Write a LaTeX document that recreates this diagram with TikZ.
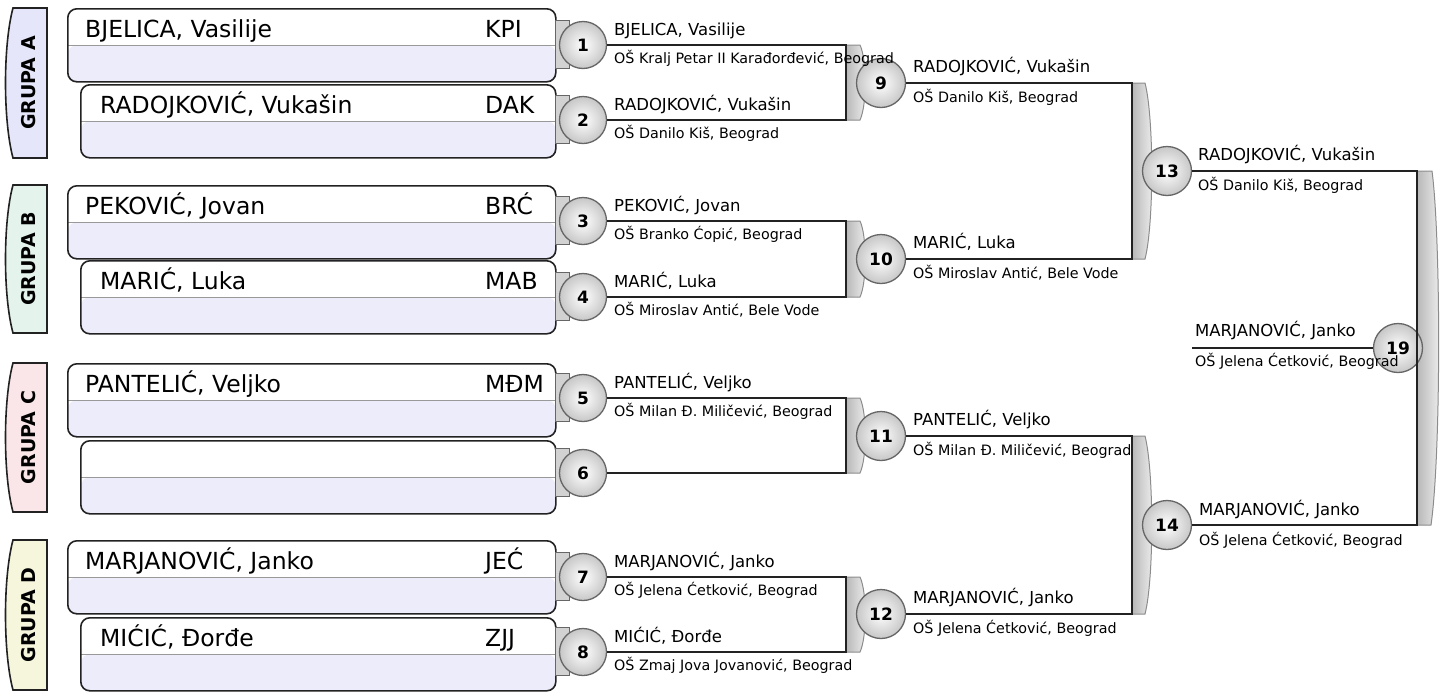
\documentclass[tikz,border=0pt]{standalone}
\usepackage{fontspec}
\setmainfont{DejaVu Sans}
\usetikzlibrary{shadings}
\definecolor{boxdark}{RGB}{34,34,34}
\definecolor{lav}{RGB}{236,236,250}
\definecolor{grpA}{RGB}{230,230,250}
\definecolor{grpB}{RGB}{228,244,236}
\definecolor{grpC}{RGB}{250,230,232}
\definecolor{grpD}{RGB}{246,246,220}
\definecolor{bandgray}{RGB}{210,210,210}
\tikzset{
  pbox/.style={draw=boxdark, line width=1.6, rounded corners=9, minimum height=73, fill=white, inner sep=0, anchor=north west,
    path picture={\fill[lav] (path picture bounding box.west) rectangle (path picture bounding box.south east);
      \draw[gray!80, line width=0.8] (path picture bounding box.west) -- (path picture bounding box.east);}},
  bigname/.style={anchor=base west, inner sep=0, font=\fontsize{23.5}{28}\selectfont},
  rname/.style={anchor=base west, inner sep=0, font=\fontsize{16.5}{20}\selectfont},
  rsub/.style={anchor=base west, inner sep=0, font=\fontsize{14.3}{17}\selectfont},
  ball/.style={circle, draw=black!60, line width=1.3, minimum size=#1, inner sep=0, shading=radial, inner color=white, outer color=black!22, font=\bfseries\fontsize{17}{20}\selectfont},
  ball/.default=49,
  stub/.style={rectangle, draw=black!60, line width=1, fill=bandgray, minimum width=14, minimum height=48, inner sep=0},
  wire/.style={draw=boxdark, line width=2},
  band/.style={left color=black!28, right color=black!6, draw=black!45, line width=1},
  grp/.style={draw=boxdark, line width=1.6},
  grptext/.style={rotate=90, font=\bfseries\fontsize{19}{22}\selectfont, inner sep=0}
}
\begin{document}
\begin{tikzpicture}[x=1pt,y=-1pt]
\useasboundingbox (0,0) rectangle (1440,691);
% group labels
\foreach \yt/\yb/\col/\lab/\nm in {8/158/grpA/A/gA,185/333/grpB/B/gB,363/512/grpC/C/gC,540/690/grpD/D/gD}{
  \pgfmathsetmacro\ya{\yt+0.25*(\yb-\yt)}
  \pgfmathsetmacro\yc{\yt+0.75*(\yb-\yt)}
  \pgfmathsetmacro\ym{(\yt+\yb)/2}
  \path[grp, fill=\col] (47,\yt) -- (13,\yt) .. controls (3,\ya) and (3,\yc) .. (13,\yb) -- (47,\yb) -- cycle;
  \node[grptext] (\nm) at (29,\ym) {GRUPA \lab};
}
% player boxes
\node[pbox, minimum width=488] (b1) at (67,8) {};
\node[pbox, minimum width=475] (b2) at (80,84) {};
\node[pbox, minimum width=488] (b3) at (67,185) {};
\node[pbox, minimum width=475] (b4) at (80,260) {};
\node[pbox, minimum width=488] (b5) at (67,363) {};
\node[pbox, minimum width=475] (b6) at (80,440) {};
\node[pbox, minimum width=488] (b7) at (67,540) {};
\node[pbox, minimum width=475] (b8) at (80,617) {};
\node[bigname] (n1) at (85,37) {BJELICA, Vasilije};
\node[bigname] (c1) at (485,37) {KPI};
\node[bigname] (n2) at (100,113) {RADOJKOVIĆ, Vukašin};
\node[bigname] (c2) at (485,113) {DAK};
\node[bigname] (n3) at (85,214) {PEKOVIĆ, Jovan};
\node[bigname] (c3) at (485,214) {BRĆ};
\node[bigname] (n4) at (100,289) {MARIĆ, Luka};
\node[bigname] (c4) at (485,289) {MAB};
\node[bigname] (n5) at (85,392) {PANTELIĆ, Veljko};
\node[bigname] (c5) at (485,392) {MĐM};
\node[bigname] (n7) at (85,569) {MARJANOVIĆ, Janko};
\node[bigname] (c7) at (485,569) {JEĆ};
\node[bigname] (n8) at (100,646) {MIĆIĆ, Đorđe};
\node[bigname] (c8) at (485,646) {ZJJ};
% stubs
\foreach \i/\y in {1/45,2/120,3/221,4/297,5/398,6/473,7/577,8/652}{
  \node[stub] (s\i) at (562,\y-1) {};
}
% bracket junction coordinates
\coordinate (j1) at (846,45);  \coordinate (j2) at (846,120);
\coordinate (j3) at (846,221); \coordinate (j4) at (846,297);
\coordinate (j5) at (846,398); \coordinate (j6) at (846,473);
\coordinate (j7) at (846,577); \coordinate (j8) at (846,652);
\coordinate (j9) at (1132,83);  \coordinate (j10) at (1132,259);
\coordinate (j11) at (1132,436); \coordinate (j12) at (1132,614);
\coordinate (j13) at (1417,171); \coordinate (j14) at (1417,525);
\coordinate (e19) at (1192,348);
% bands
\foreach \a/\b in {45/120,221/297,398/473,577/652}{
  \path[band] (846,\a) -- (860,\a) .. controls (867,\a+15) and (867,\b-15) .. (860,\b) -- (846,\b) -- cycle;
}
\foreach \a/\b in {83/259,436/614}{
  \path[band] (1132,\a) -- (1145,\a) .. controls (1154,\a+35) and (1154,\b-35) .. (1145,\b) -- (1132,\b) -- cycle;
}
\path[band] (1417,171) -- (1432,171) .. controls (1441,240) and (1441,455) .. (1431,525) -- (1417,525) -- cycle;
% circles
\node[ball=47] (m1) at (583,45) {1};
\node[ball=47] (m2) at (583,120) {2};
\node[ball=47] (m3) at (583,221) {3};
\node[ball=47] (m4) at (583,297) {4};
\node[ball=47] (m5) at (583,398) {5};
\node[ball=47] (m6) at (583,473) {6};
\node[ball=47] (m7) at (583,577) {7};
\node[ball=47] (m8) at (583,652) {8};
\node[ball] (m9) at (881,83) {9};
\node[ball] (m10) at (881,259) {10};
\node[ball] (m11) at (881,436) {11};
\node[ball] (m12) at (881,614) {12};
\node[ball] (m13) at (1167,171) {13};
\node[ball] (m14) at (1167,525) {14};
\node[ball] (m19) at (1398,348) {19};
% wires
\draw[wire] (m1.east) -- (j1) -- (j2) -- (m2.east);
\draw[wire] (m3.east) -- (j3) -- (j4) -- (m4.east);
\draw[wire] (m5.east) -- (j5) -- (j6) -- (m6.east);
\draw[wire] (m7.east) -- (j7) -- (j8) -- (m8.east);
\draw[wire] (m9.east) -- (j9) -- (j10) -- (m10.east);
\draw[wire] (m11.east) -- (j11) -- (j12) -- (m12.east);
\draw[wire] (m13.east) -- (j13) -- (j14) -- (m14.east);
\draw[wire] (e19) -- (m19.west);
% round labels
\node[rname] (t1) at (614,35) {BJELICA, Vasilije};
\node[rsub] (u1) at (614,63) {OŠ Kralj Petar II Karađorđević, Beograd};
\node[rname] (t2) at (614,110) {RADOJKOVIĆ, Vukašin};
\node[rsub] (u2) at (614,138) {OŠ Danilo Kiš, Beograd};
\node[rname] (t3) at (614,211) {PEKOVIĆ, Jovan};
\node[rsub] (u3) at (614,239) {OŠ Branko Ćopić, Beograd};
\node[rname] (t4) at (614,287) {MARIĆ, Luka};
\node[rsub] (u4) at (614,315) {OŠ Miroslav Antić, Bele Vode};
\node[rname] (t5) at (614,388) {PANTELIĆ, Veljko};
\node[rsub] (u5) at (614,416) {OŠ Milan Đ. Miličević, Beograd};
\node[rname] (t7) at (614,567) {MARJANOVIĆ, Janko};
\node[rsub] (u7) at (614,595) {OŠ Jelena Ćetković, Beograd};
\node[rname] (t8) at (614,642) {MIĆIĆ, Đorđe};
\node[rsub] (u8) at (614,670) {OŠ Zmaj Jova Jovanović, Beograd};
\node[rname] (t9) at (913,72) {RADOJKOVIĆ, Vukašin};
\node[rsub] (u9) at (913,102) {OŠ Danilo Kiš, Beograd};
\node[rname] (t10) at (913,248) {MARIĆ, Luka};
\node[rsub] (u10) at (913,278) {OŠ Miroslav Antić, Bele Vode};
\node[rname] (t11) at (913,425) {PANTELIĆ, Veljko};
\node[rsub] (u11) at (913,455) {OŠ Milan Đ. Miličević, Beograd};
\node[rname] (t12) at (913,603) {MARJANOVIĆ, Janko};
\node[rsub] (u12) at (913,633) {OŠ Jelena Ćetković, Beograd};
\node[rname] (t13) at (1198,160) {RADOJKOVIĆ, Vukašin};
\node[rsub] (u13) at (1198,190) {OŠ Danilo Kiš, Beograd};
\node[rname] (t14) at (1199,515) {MARJANOVIĆ, Janko};
\node[rsub] (u14) at (1199,545) {OŠ Jelena Ćetković, Beograd};
\node[rname] (t19) at (1195,336) {MARJANOVIĆ, Janko};
\node[rsub] (u19) at (1195,366) {OŠ Jelena Ćetković, Beograd};
\end{tikzpicture}
\end{document}
